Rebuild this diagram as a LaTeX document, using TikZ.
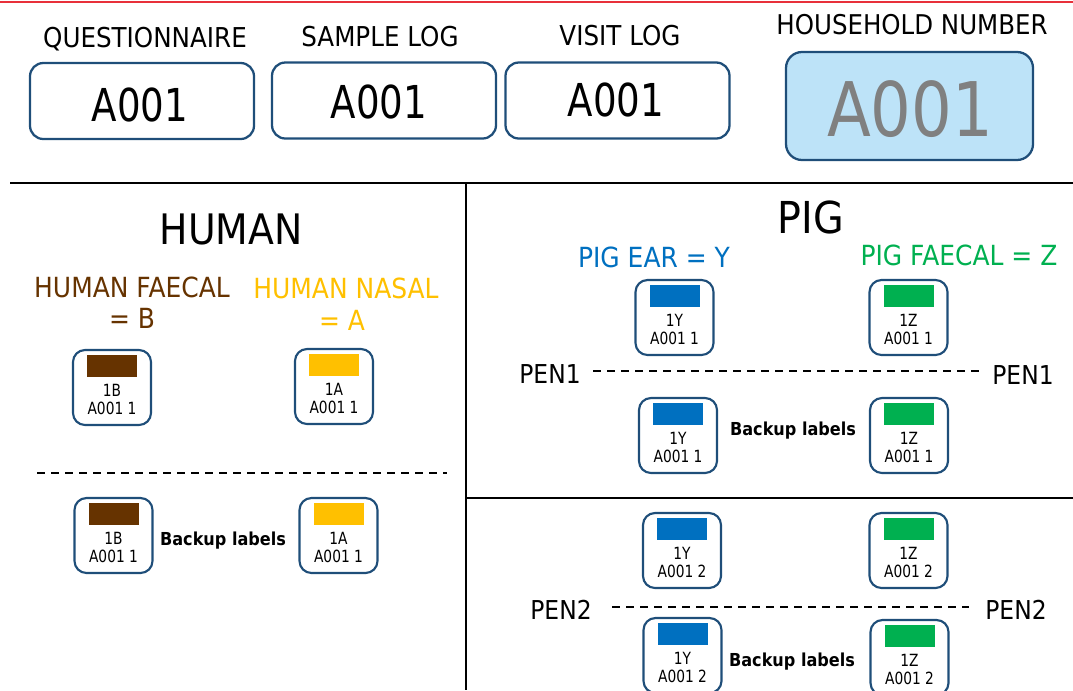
\documentclass[tikz,border=0pt]{standalone}
\usepackage{fontspec}
\setmainfont[FakeStretch=0.9]{DejaVu Sans}
\newfontfamily\narrowfont[FakeStretch=0.82]{DejaVu Sans}
\newfontfamily\midfont[FakeStretch=0.85]{DejaVu Sans}
\usetikzlibrary{calc}
\definecolor{boxblue}{HTML}{1F4E79}
\definecolor{hhfill}{HTML}{BDE3F8}
\definecolor{txtgray}{HTML}{808080}
\definecolor{cbrown}{HTML}{663300}
\definecolor{cyellow}{HTML}{FFC000}
\definecolor{cblue}{HTML}{0070C0}
\definecolor{cgreen}{HTML}{00B050}
\definecolor{topred}{HTML}{E8303A}
\newcommand\mklabel[6]{%
  \node[lblbox] (#1) at (#2,#3) {};
  \fill[#4] ($(#1.north)+(-25,5)$) rectangle ($(#1.north)+(25,27)$);
  \node[lbltxt] (#1-a) at ($(#1.north)+(0,46)$) {#5};
  \node[lbltxt] (#1-b) at ($(#1.north)+(0,64)$) {#6};
}
\tikzset{
  hdr/.style={anchor=base, inner sep=0pt, font=\fontsize{20.5}{24}\selectfont},
  bigbox/.style={draw=boxblue, line width=1.7pt, rounded corners=10pt, minimum width=168pt, minimum height=57pt, inner sep=0pt, outer sep=0pt},
  bigtxt/.style={anchor=base, inner sep=0pt, font=\narrowfont\fontsize{34}{40}\selectfont},
  lblbox/.style={draw=boxblue, line width=1.6pt, rounded corners=9pt, minimum width=58.5pt, minimum height=56.25pt, inner sep=0pt, outer sep=0pt},
  lbltxt/.style={anchor=base, inner sep=0pt, font=\narrowfont\fontsize{12.6}{14}\selectfont},
  sect/.style={anchor=base, inner sep=0pt, font=\fontsize{31.5}{36}\selectfont},
  species/.style={anchor=base, inner sep=0pt, font=\fontsize{20.8}{24}\selectfont},
  pen/.style={anchor=base, inner sep=0pt, font=\fontsize{19.5}{23}\selectfont},
  backup/.style={anchor=base, inner sep=0pt, font=\bfseries\fontsize{13.4}{16}\selectfont},
  sep/.style={line width=1.9pt, black},
  penline/.style={line width=1.2pt, dash pattern=on 6pt off 4.5pt},
}
\begin{document}
\begin{tikzpicture}[x=0.75pt, y=-0.75pt]
\useasboundingbox (0,0) rectangle (1073,690);
\clip (0,0) rectangle (1073,690);
% top red rule
\coordinate (r1) at (0,2);
\coordinate (r2) at (1073,2);
\draw[topred, line width=0.8pt] (r1) -- (r2);

% header
\node[hdr] (hq) at (145,47) {QUESTIONNAIRE};
\node[hdr] (hs) at (380,46) {SAMPLE LOG};
\node[hdr] (hv) at (620,45) {VISIT LOG};
\node[hdr, font=\fontsize{20.4}{24}\selectfont] (hh) at (912,34.5) {HOUSEHOLD NUMBER};

\node[bigbox] (b1) at (142,101) {};
\node[bigbox] (b2) at (384,100.5) {};
\node[bigbox] (b3) at (617.5,100.5) {};
\node[bigbox, fill=hhfill, minimum width=185.25pt, minimum height=81pt, rounded corners=12pt] (b4) at (909.5,106) {};
\node[bigtxt] (t1) at (140,121.5) {A001};
\node[bigtxt] (t2) at (379,118.5) {A001};
\node[bigtxt] (t3) at (616,116.5) {A001};
\node[bigtxt, text=txtgray, font=\midfont\fontsize{56.5}{60}\selectfont] (t4) at (910,136.5) {A001};

% separators
\coordinate (s1) at (10,183);
\coordinate (s2) at (1073,183);
\coordinate (s3) at (466,183);
\coordinate (s4) at (466,690);
\coordinate (s5) at (466,498);
\coordinate (s6) at (1073,498);
\draw[sep] (s1) -- (s2);
\draw[sep] (s3) -- (s4);
\draw[sep] (s5) -- (s6);

% HUMAN
\node[sect] (human) at (231,244) {HUMAN};
\node[species, text=cbrown] (hf1) at (132,297) {HUMAN FAECAL};
\node[species, text=cbrown] (hf2) at (132,328.5) {= B};
\node[species, text=cyellow] (hn1) at (346,298) {HUMAN NASAL};
\node[species, text=cyellow] (hn2) at (342,330) {= A};
\mklabel{L1}{112}{387.5}{cbrown}{1B}{A001 1}
\mklabel{L2}{334}{386.5}{cyellow}{1A}{A001 1}
\coordinate (d1) at (37,473);
\coordinate (d2) at (447,473);
\draw[penline] (d1) -- (d2);
\mklabel{L3}{113.5}{535.5}{cbrown}{1B}{A001 1}
\mklabel{L4}{338.5}{535.5}{cyellow}{1A}{A001 1}
\node[backup] (bk1) at (223,545.5) {Backup labels};

% PIG
\node[sect, font=\fontsize{33}{38}\selectfont] (pig) at (811,233.5) {PIG};
\node[species, text=cblue] (pe) at (654,267.5) {PIG EAR = Y};
\node[species, text=cgreen] (pf) at (959,265.5) {PIG FAECAL = Z};
\mklabel{P1}{674.5}{317.5}{cblue}{1Y}{A001 1}
\mklabel{P2}{908.5}{317.5}{cgreen}{1Z}{A001 1}
\node[pen] (pen1l) at (550,383) {PEN1};
\node[pen] (pen1r) at (1023,384) {PEN1};
\coordinate (p1a) at (593,371);
\coordinate (p1b) at (981,371);
\draw[penline] (p1a) -- (p1b);
\mklabel{P3}{678}{435.5}{cblue}{1Y}{A001 1}
\mklabel{P4}{909}{435.5}{cgreen}{1Z}{A001 1}
\node[backup] (bk2) at (793,435.5) {Backup labels};

\mklabel{P5}{682}{550.5}{cblue}{1Y}{A001 2}
\mklabel{P6}{908.5}{550.5}{cgreen}{1Z}{A001 2}
\node[pen] (pen2l) at (561,619) {PEN2};
\node[pen] (pen2r) at (1016,619) {PEN2};
\coordinate (p2a) at (612,607);
\coordinate (p2b) at (969,607);
\draw[penline] (p2a) -- (p2b);
\mklabel{P7}{682.5}{655.5}{cblue}{1Y}{A001 2}
\mklabel{P8}{909.5}{657.5}{cgreen}{1Z}{A001 2}
\node[backup] (bk3) at (792,666.5) {Backup labels};
\end{tikzpicture}
\end{document}
